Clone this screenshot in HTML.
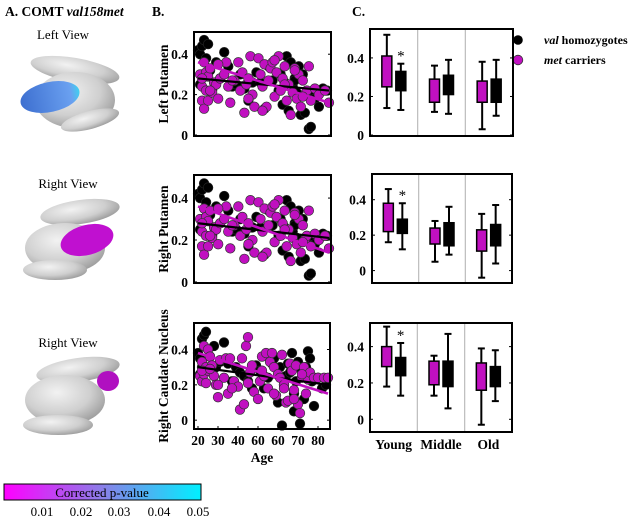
<!DOCTYPE html>
<html><head><meta charset="utf-8">
<style>
html,body{margin:0;padding:0;background:#fff;}
svg{display:block;font-family:"Liberation Serif",serif;}
.t{font-weight:bold;font-size:13.5px;}
</style></head>
<body>
<svg id="fig" width="635" height="519" viewBox="0 0 635 519" xmlns="http://www.w3.org/2000/svg">
<defs>
<radialGradient id="gray" cx="40%" cy="35%" r="70%"><stop offset="0" stop-color="#f2f2f2"/><stop offset="0.6" stop-color="#cfcfcf"/><stop offset="1" stop-color="#9a9a9a"/></radialGradient>
<linearGradient id="cbar" x1="0" x2="1"><stop offset="0" stop-color="#ff00ff"/><stop offset="0.5" stop-color="#8a7fe8"/><stop offset="1" stop-color="#00f0ff"/></linearGradient>
<linearGradient id="blue" x1="0" x2="1"><stop offset="0" stop-color="#3d6fd0"/><stop offset="0.85" stop-color="#6aa0f0"/><stop offset="1" stop-color="#40d0f0"/></linearGradient>
</defs>
<text x="5" y="16" class="t" font-size="14">A. COMT <tspan font-style="italic">val158met</tspan></text>
<text x="152" y="16" class="t" font-size="14">B.</text>
<text x="352" y="16" class="t" font-size="14">C.</text>

<g>
<text x="63" y="39" font-size="13" text-anchor="middle">Left View</text>
<ellipse cx="75" cy="70" rx="45" ry="12" fill="url(#gray)" transform="rotate(10 75 70)"/>
<ellipse cx="75" cy="100" rx="40" ry="28" fill="url(#gray)"/>
<ellipse cx="90" cy="120" rx="30" ry="9" fill="url(#gray)" transform="rotate(-15 90 120)"/>
<ellipse cx="50" cy="97" rx="30" ry="15" fill="url(#blue)" transform="rotate(-12 50 97)"/>
</g>
<g>
<text x="68" y="188" font-size="13" text-anchor="middle">Right View</text>
<ellipse cx="80" cy="212" rx="40" ry="12" fill="url(#gray)" transform="rotate(-8 80 212)"/>
<ellipse cx="65" cy="248" rx="40" ry="25" fill="url(#gray)"/>
<ellipse cx="55" cy="270" rx="32" ry="10" fill="url(#gray)"/>
<ellipse cx="87" cy="240" rx="27" ry="15" fill="#c010d0" transform="rotate(-15 87 240)"/>
</g>
<g>
<text x="68" y="347" font-size="13" text-anchor="middle">Right View</text>
<ellipse cx="78" cy="370" rx="42" ry="12" fill="url(#gray)" transform="rotate(-8 78 370)"/>
<ellipse cx="65" cy="400" rx="40" ry="25" fill="url(#gray)"/>
<ellipse cx="58" cy="425" rx="35" ry="10" fill="url(#gray)"/>
<ellipse cx="108" cy="381" rx="11" ry="10" fill="#b010c0"/>
</g>

<g>
<rect x="4" y="484" width="197" height="16" fill="url(#cbar)" stroke="#000" stroke-width="1"/>
<text x="102" y="497" font-size="13" text-anchor="middle">Corrected p-value</text>
<g font-size="13" text-anchor="middle">
<text x="42" y="516">0.01</text><text x="81" y="516">0.02</text><text x="119" y="516">0.03</text><text x="159" y="516">0.04</text><text x="198" y="516">0.05</text>
</g>
</g>

<g>
<circle cx="518" cy="40" r="4.8" fill="#000"/>
<circle cx="518" cy="60" r="4.8" fill="#c010c0" stroke="#333" stroke-width="0.8"/>
<text x="544" y="44" class="t" style="font-size:12px"><tspan font-style="italic">val</tspan> homozygotes</text>
<text x="544" y="64" class="t" style="font-size:12px"><tspan font-style="italic">met</tspan> carriers</text>
</g>
<g id="charts"></g>
</svg>
<script>
// ---- scatter data ----
const metAge=[21,22,22,23,23,24,24,25,25,26,27,28,29,30,31,33,34,35,36,38,40,41,42,43,44,45,46,47,48,50,51,52,53,54,55,56,57,58,59,60,61,62,63,64,65,66,67,68,69,70,71,72,73,74,75,76,78,80,83,85,22,26,30,37,45,52,58,63,68,72];
const valAge=[20,21,21,22,22,23,24,25,26,27,28,29,31,33,35,37,39,41,43,45,47,49,51,53,55,57,58,60,61,62,63,64,65,66,67,68,69,70,71,72,73,74,75,76,77,78,80,82,84,68];
const metLP=[0.30,0.17,0.24,0.36,0.13,0.31,0.22,0.29,0.17,0.33,0.21,0.26,0.25,0.18,0.28,0.30,0.36,0.24,0.16,0.27,0.36,0.22,0.31,0.11,0.25,0.28,0.39,0.20,0.14,0.38,0.30,0.24,0.35,0.14,0.27,0.33,0.36,0.19,0.31,0.39,0.22,0.28,0.34,0.17,0.25,0.10,0.21,0.33,0.18,0.30,0.14,0.27,0.20,0.22,0.34,0.17,0.23,0.20,0.22,0.16,0.28,0.22,0.35,0.27,0.18,0.12,0.37,0.25,0.32,0.19];
const valLP=[0.42,0.40,0.25,0.44,0.30,0.47,0.38,0.45,0.32,0.22,0.26,0.36,0.28,0.41,0.34,0.24,0.25,0.30,0.23,0.17,0.26,0.31,0.26,0.13,0.34,0.27,0.37,0.22,0.30,0.15,0.26,0.39,0.12,0.36,0.24,0.28,0.21,0.34,0.10,0.30,0.11,0.21,0.03,0.04,0.22,0.18,0.14,0.23,0.22,0.27];
const metRP=[0.30,0.17,0.24,0.35,0.13,0.31,0.22,0.29,0.17,0.34,0.21,0.26,0.25,0.18,0.28,0.30,0.36,0.24,0.16,0.27,0.36,0.22,0.31,0.11,0.25,0.28,0.39,0.20,0.14,0.38,0.30,0.24,0.35,0.14,0.27,0.33,0.36,0.19,0.31,0.39,0.22,0.28,0.34,0.17,0.25,0.10,0.21,0.33,0.18,0.30,0.14,0.27,0.20,0.22,0.34,0.17,0.23,0.20,0.22,0.16,0.28,0.22,0.35,0.27,0.18,0.12,0.37,0.25,0.32,0.19];
const valRP=[0.42,0.40,0.25,0.44,0.30,0.47,0.38,0.45,0.32,0.22,0.26,0.36,0.28,0.41,0.34,0.24,0.25,0.30,0.23,0.17,0.26,0.31,0.26,0.13,0.34,0.27,0.37,0.22,0.30,0.15,0.26,0.39,0.12,0.36,0.24,0.28,0.21,0.34,0.10,0.30,0.11,0.21,0.03,0.04,0.22,0.18,0.14,0.23,0.22,0.27];
const metRC=[0.25,0.22,0.33,0.42,0.26,0.30,0.21,0.40,0.28,0.36,0.31,0.25,0.20,0.13,0.34,0.24,0.35,0.15,0.35,0.22,0.19,0.06,0.35,0.09,0.42,0.47,0.27,0.31,0.16,0.12,0.22,0.36,0.25,0.38,0.18,0.33,0.38,0.30,0.14,0.26,0.24,0.37,0.20,0.10,0.11,0.32,0.28,0.17,0.31,0.09,0.04,0.24,0.30,0.15,0.23,0.27,0.24,0.24,0.24,0.24,0.28,0.29,0.20,0.18,0.21,0.28,0.15,0.18,0.12,0.26];
const valRC=[0.38,0.35,0.26,0.46,0.30,0.48,0.50,0.40,0.36,0.28,0.42,0.30,0.33,0.44,0.32,0.22,0.30,0.27,0.25,0.22,0.18,0.31,0.28,0.18,0.24,0.32,0.35,0.10,0.30,-0.03,0.20,0.25,0.32,0.27,0.38,0.05,0.22,0.33,-0.02,0.28,0.12,0.30,0.39,0.35,0.22,0.08,0.24,0.18,0.20,0.15];
// regression line values at age 20 and 85
const lineAges=[20,85];
const valFitLP=[0.28,0.22], metFitLP=[0.36,0.16];
const valFitRP=[0.28,0.21], metFitRP=[0.36,0.14];
const valFitRC=[0.30,0.20], metFitRC=[0.38,0.15];
const xTicks=[20,30,40,50,60,70,80];
const xTickLabels=["20","30","40","60","60","70","80"];
const yTicks=[0,0.2,0.4];
const yTickLabels=["0","0.2","0.4"];
// ---- box data: [low whisker, q1, q3, high whisker] ----
const groups=["Young","Middle","Old"];
const boxMetLP=[[0.14,0.25,0.41,0.52],[0.12,0.17,0.29,0.36],[0.03,0.17,0.28,0.38]];
const boxValLP=[[0.13,0.23,0.33,0.37],[0.11,0.21,0.31,0.39],[0.10,0.17,0.29,0.39]];
const boxMetRP=[[0.16,0.22,0.38,0.46],[0.05,0.15,0.24,0.28],[-0.04,0.11,0.23,0.32]];
const boxValRP=[[0.12,0.21,0.29,0.38],[0.09,0.14,0.27,0.36],[0.04,0.14,0.26,0.37]];
const boxMetRC=[[0.18,0.29,0.40,0.51],[0.13,0.19,0.32,0.35],[-0.03,0.16,0.31,0.39]];
const boxValRC=[[0.13,0.24,0.34,0.42],[0.06,0.18,0.32,0.47],[0.10,0.18,0.29,0.38]];

const NS="http://www.w3.org/2000/svg";
const root=document.getElementById('charts');
function mk(tag,attrs,parent){const e=document.createElementNS(NS,tag);for(const k in attrs)e.setAttribute(k,attrs[k]);(parent||root).appendChild(e);return e;}

const MAG="#c010c0";
const rowsB=[
 {x0:194,x1:331,y0:32,y1:136,ymin:-0.005,ymax:0.51,met:metLP,val:valLP,mf:metFitLP,vf:valFitLP,label:"Left Putamen",name:"left-putamen",xl:false},
 {x0:194,x1:331,y0:175,y1:283,ymin:-0.005,ymax:0.51,met:metRP,val:valRP,mf:metFitRP,vf:valFitRP,label:"Right Putamen",name:"right-putamen",xl:false},
 {x0:194,x1:330,y0:323,y1:429,ymin:-0.05,ymax:0.55,met:metRC,val:valRC,mf:metFitRC,vf:valFitRC,label:"Right Caudate Nucleus",name:"right-caudate",xl:true}
];
rowsB.forEach(r=>{
 const g=mk('g',{});
 
 
 const xs=a=>r.x0+(a-18)/(86-18)*(r.x1-r.x0);
 const ys=v=>r.y1-(v-r.ymin)/(r.ymax-r.ymin)*(r.y1-r.y0);
 mk('rect',{x:r.x0,y:r.y0,width:r.x1-r.x0,height:r.y1-r.y0,fill:'#fff',stroke:'none'},g);
 const n1=Math.min(valAge.length,r.val.length);
 for(let i=0;i<n1;i++){const c=mk('circle',{cx:xs(valAge[i]),cy:ys(r.val[i]),r:4.8,fill:'#000',stroke:'#222','stroke-width':0.7},g);
  
  }
 const n2=Math.min(metAge.length,r.met.length);
 for(let i=0;i<n2;i++){const c=mk('circle',{cx:xs(metAge[i]),cy:ys(r.met[i]),r:4.8,fill:MAG,stroke:'#333','stroke-width':0.7},g);
  
  }
 const l1=mk('line',{x1:xs(lineAges[0]),y1:ys(r.vf[0]),x2:xs(lineAges[1]),y2:ys(r.vf[1]),stroke:'#000','stroke-width':2.2},g);
 
 
 const l2=mk('line',{x1:xs(lineAges[0]),y1:ys(r.mf[0]),x2:xs(lineAges[1]),y2:ys(r.mf[1]),stroke:MAG,'stroke-width':2.6},g);
 
 
 mk('rect',{x:r.x0,y:r.y0,width:r.x1-r.x0,height:r.y1-r.y0,fill:'none',stroke:'#000','stroke-width':2},g);
 yTicks.forEach((t,i)=>{const y=ys(t);
  mk('line',{x1:r.x0,y1:y,x2:r.x0+3,y2:y,stroke:'#000'},g);mk('line',{x1:r.x1,y1:y,x2:r.x1-3,y2:y,stroke:'#000'},g);
  const tx=mk('text',{x:r.x0-6,y:y+5,'text-anchor':'end',class:'t'},g);tx.textContent=yTickLabels[i];
  
  });
 if(r.xl){xTicks.forEach((t,i)=>{const x=xs(t);
  mk('line',{x1:x,y1:r.y1,x2:x,y2:r.y1-3,stroke:'#000'},g);
  const tx=mk('text',{x:x,y:r.y1+16,'text-anchor':'middle',class:'t'},g);tx.textContent=xTickLabels[i];
  
  });
  const ax=mk('text',{x:(r.x0+r.x1)/2,y:r.y1+33,'text-anchor':'middle',class:'t'},g);ax.textContent='Age';
  
  }
 const cy=(r.y0+r.y1)/2;
 const yl=mk('text',{x:0,y:0,'text-anchor':'middle',class:'t',transform:`translate(168 ${cy}) rotate(-90)`},g);
 yl.textContent=r.label;
 
 
});

const rowsC=[
 {x0:370,x1:513,y0:29,y1:136,ymin:-0.005,ymax:0.55,met:boxMetLP,val:boxValLP,name:'left-putamen',xl:false},
 {x0:372,x1:512,y0:174,y1:283,ymin:-0.07,ymax:0.545,met:boxMetRP,val:boxValRP,name:'right-putamen',xl:false},
 {x0:370,x1:512,y0:323,y1:432,ymin:-0.07,ymax:0.53,met:boxMetRC,val:boxValRC,name:'right-caudate',xl:true}
];
rowsC.forEach(r=>{
 const g=mk('g',{});
 
 
 const ys=v=>r.y1-(v-r.ymin)/(r.ymax-r.ymin)*(r.y1-r.y0);
 const gw=(r.x1-r.x0)/3;
 for(let k=1;k<3;k++)mk('line',{x1:r.x0+gw*k,y1:r.y0,x2:r.x0+gw*k,y2:r.y1,stroke:'#bbb','stroke-width':1.2},g);
 groups.forEach((gr,k)=>{
  [[r.met[k],MAG,-7],[r.val[k],'#000',7]].forEach(([b,col,off])=>{
   const cx=r.x0+gw*k+gw/2+off;
   mk('line',{x1:cx,y1:ys(b[0]),x2:cx,y2:ys(b[3]),stroke:'#000','stroke-width':2},g);
   mk('line',{x1:cx-3.5,y1:ys(b[0]),x2:cx+3.5,y2:ys(b[0]),stroke:'#000','stroke-width':2},g);
   mk('line',{x1:cx-3.5,y1:ys(b[3]),x2:cx+3.5,y2:ys(b[3]),stroke:'#000','stroke-width':2},g);
   const bx=mk('rect',{x:cx-5,y:ys(b[2]),width:10,height:ys(b[1])-ys(b[2]),fill:col,stroke:'#000','stroke-width':1.5},g);
   
   
  });
  if(k===0){const st=mk('text',{x:r.x0+gw/2+7,y:ys(r.val[0][3])-3,'text-anchor':'middle','font-size':15},g);st.textContent='*';
   
   }
  if(r.xl){const tx=mk('text',{x:r.x0+gw*k+gw/2,y:r.y1+17,'text-anchor':'middle',class:'t'},g);tx.textContent=gr;
   
   }
 });
 mk('rect',{x:r.x0,y:r.y0,width:r.x1-r.x0,height:r.y1-r.y0,fill:'none',stroke:'#000','stroke-width':2},g);
 yTicks.forEach((t,i)=>{const y=ys(t);
  mk('line',{x1:r.x0,y1:y,x2:r.x0+3,y2:y,stroke:'#000'},g);mk('line',{x1:r.x1,y1:y,x2:r.x1-3,y2:y,stroke:'#000'},g);
  const tx=mk('text',{x:r.x0-6,y:y+5,'text-anchor':'end',class:'t'},g);tx.textContent=yTickLabels[i];
  
  });
});
</script>
</body></html>
